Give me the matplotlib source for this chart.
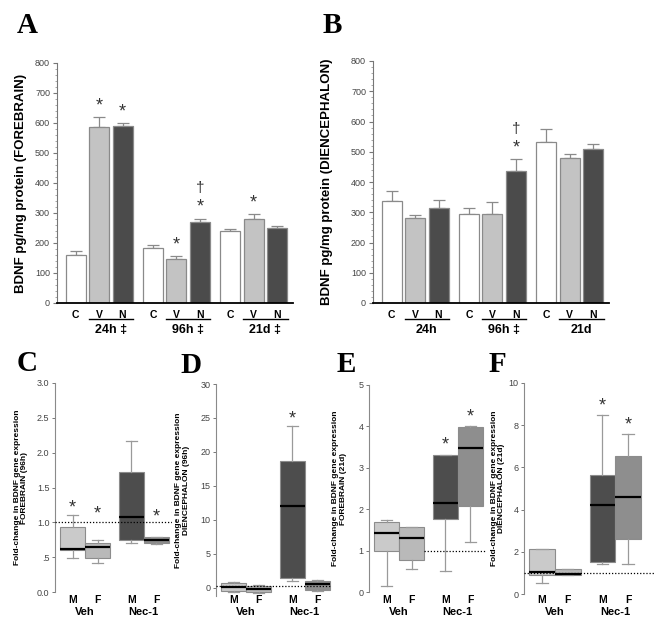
import matplotlib
matplotlib.use("Agg")
import matplotlib.pyplot as plt
import matplotlib.transforms as mtransforms
from matplotlib.ticker import MultipleLocator

plt.rcParams['font.family'] = ['Liberation Sans', 'DejaVu Sans']

#----------DATA--------
#Protein levels (panels A and B)
bar_labels = ['C', 'V', 'N'] * 3
groups_fore = ['24h \u2021', '96h \u2021', '21d \u2021']
groups_dien = ['24h', '96h \u2021', '21d']

fore_mean = [160, 587, 589, 183, 148, 270, 239, 281, 250]
fore_err = [14, 33, 11, 11, 8, 11, 8, 15, 8]
fore_star = [False, True, True, False, True, True, False, True, False]
fore_dagger = [False, False, False, False, False, True, False, False, False]

dien_mean = [337, 282, 315, 294, 293, 435, 532, 480, 510]
dien_err = [33, 8, 24, 20, 40, 40, 42, 14, 16]
dien_star = [False, False, False, False, False, True, False, False, False]
dien_dagger = [False, False, False, False, False, True, False, False, False]

#Gene expression box plots (panels C-F), order: Veh M, Veh F, Nec-1 M, Nec-1 F
box_labels = ['M', 'F', 'M', 'F']
box_groups = ['Veh', 'Nec-1']

c_med = [0.62, 0.65, 1.07, 0.74]
c_q1 = [0.61, 0.485, 0.74, 0.70]
c_q3 = [0.94, 0.71, 1.72, 0.79]
c_lo = [0.49, 0.42, 0.71, 0.69]
c_hi = [1.11, 0.74, 2.17, 0.79]
c_star = [1.21, 1.12, None, 1.07]

d_med = [0.15, -0.15, 12.1, 0.6]
d_q1 = [-0.45, -0.6, 1.5, -0.3]
d_q3 = [0.7, 0.3, 18.7, 1.0]
d_lo = [-0.6, -0.7, 1.0, -0.4]
d_hi = [0.9, 0.4, 23.8, 1.2]
d_star = [None, None, 24.9, None]

e_med = [1.43, 1.31, 2.14, 3.48]
e_q1 = [0.98, 0.78, 1.77, 2.07]
e_q3 = [1.68, 1.56, 3.32, 3.98]
e_lo = [0.15, 0.55, 0.51, 1.21]
e_hi = [1.73, 1.57, 3.32, 4.0]
e_star = [None, None, 3.55, 4.23]

f_med = [1.04, 0.95, 4.22, 4.62]
f_q1 = [0.9, 0.9, 1.53, 2.6]
f_q3 = [2.13, 1.18, 5.65, 6.55]
f_lo = [0.52, 0.88, 1.42, 1.42]
f_hi = [2.13, 1.18, 8.5, 7.56]
f_star = [None, None, 8.92, 8.02]

#----------STYLE--------
W, H = 664, 631
bar_colors = ['white', '#c3c3c3', '#4b4b4b'] * 3
bar_x = [0, 1, 2, 3.3, 4.3, 5.3, 6.6, 7.6, 8.6]
box_colors = ['#cacaca', '#b9b9b9', '#4d4d4d', '#8e8e8e']
box_x = [0.7, 1.7, 3.05, 4.05]

fig = plt.figure(figsize=(W / 100, H / 100), dpi=100)


def px_axes(x0, x1, y0, y1):
    #axes from pixel box (left, right, top, bottom)
    return fig.add_axes([x0 / W, 1 - y1 / H, (x1 - x0) / W, (y1 - y0) / H])


def fig_y(py):
    return 1 - py / H


def bar_panel(ax, means, errs, stars, daggers, groups, ylabel, label_x):
    ax.bar(bar_x, means, width=0.85, color=bar_colors, edgecolor='#8a8a8a',
           linewidth=0.9, zorder=2)
    ax.errorbar(bar_x, means, yerr=[[0] * len(errs), errs], fmt='none',
                ecolor='#8a8a8a', elinewidth=0.9, capsize=4, capthick=0.9, zorder=1)
    for x, m, e, s, d in zip(bar_x, means, errs, stars, daggers):
        if s:
            ax.annotate('*', (x, m + e), xytext=(0, 2), textcoords='offset points',
                        ha='center', va='bottom', fontsize=13, color='#333333')
        if d:
            ax.annotate('\u2020', (x, m + e), xytext=(0, 17), textcoords='offset points',
                        ha='center', va='bottom', fontsize=11, color='#333333')
    ax.set_ylim(0, 800)
    ax.set_xlim(-0.8, 9.28)
    ax.yaxis.set_major_locator(MultipleLocator(100))
    ax.yaxis.set_minor_locator(MultipleLocator(20))
    ax.tick_params(axis='y', which='major', length=3, width=0.8, color='#777777',
                   labelsize=6.5, labelcolor='#444444', pad=2)
    ax.tick_params(axis='y', which='minor', length=1.5, width=0.6, color='#999999')
    ax.set_xticks(bar_x, bar_labels, fontweight='bold', fontsize=7.5)
    ax.tick_params(axis='x', length=0, pad=5)
    for side in ['top', 'right']:
        ax.spines[side].set_visible(False)
    ax.spines['left'].set_color('#777777')
    ax.spines['left'].set_linewidth(0.8)
    ax.spines['bottom'].set_linewidth(1.3)
    ax.set_ylabel(ylabel, fontweight='bold', fontsize=9.5)
    ax.yaxis.set_label_coords(label_x, 0.5)
    trans = mtransforms.blended_transform_factory(ax.transData, fig.transFigure)
    for g, name in enumerate(groups):
        xv, xn = bar_x[3 * g + 1], bar_x[3 * g + 2]
        ax.plot([xv - 0.45, xn + 0.45], [fig_y(319)] * 2, color='black', lw=1.0,
                transform=trans, clip_on=False)
        ax.text((xv + xn) / 2, fig_y(330), name, transform=trans, ha='center',
                va='center', fontsize=9, fontweight='bold')


def box_panel(ax, med, q1, q3, lo, hi, stars, ylim, ticks, ticklabels, ylabel,
              label_x, xmax, line_y, line_start=0.0):
    stats = [dict(med=m, q1=a, q3=b, whislo=l, whishi=h, fliers=[])
             for m, a, b, l, h in zip(med, q1, q3, lo, hi)]
    parts = ax.bxp(stats, positions=box_x, widths=1.0, patch_artist=True,
                   showfliers=False,
                   boxprops=dict(edgecolor='#8c8c8c', linewidth=0.8),
                   whiskerprops=dict(color='#9a9a9a', linewidth=0.9),
                   capprops=dict(color='#9a9a9a', linewidth=0.9),
                   medianprops=dict(color='black', linewidth=1.6),
                   capwidths=0.45)
    for patch, col in zip(parts['boxes'], box_colors):
        patch.set_facecolor(col)
    ax.axhline(line_y, xmin=line_start, xmax=1, color='black', ls=(0, (1, 1.5)),
               lw=0.9, zorder=5)
    for x, s in zip(box_x, stars):
        if s is not None:
            ax.text(x, s, '*', ha='center', va='center', fontsize=13, color='#333333')
    ax.set_xlim(0, xmax)
    ax.set_ylim(*ylim)
    ax.set_yticks(ticks, ticklabels)
    ax.tick_params(axis='y', length=2.5, width=0.7, color='#777777', labelsize=6.5,
                   labelcolor='#444444', pad=1.5)
    ax.set_xticks([])
    for side in ['top', 'right', 'bottom']:
        ax.spines[side].set_visible(False)
    ax.spines['left'].set_color('#8a8a8a')
    ax.spines['left'].set_linewidth(0.8)
    ax.set_ylabel(ylabel, fontweight='bold', fontsize=6, linespacing=1.1)
    ax.yaxis.set_label_coords(label_x, 0.5)
    trans = mtransforms.blended_transform_factory(ax.transData, fig.transFigure)
    for x, t in zip(box_x, box_labels):
        ax.text(x, fig_y(600), t, transform=trans, ha='center', va='center',
                fontsize=7.5, fontweight='bold')
    for g, name in enumerate(box_groups):
        ax.text((box_x[2 * g] + box_x[2 * g + 1]) / 2, fig_y(612), name,
                transform=trans, ha='center', va='center', fontsize=8,
                fontweight='bold')


#----------PANELS--------
axA = px_axes(57, 293, 63, 303)
bar_panel(axA, fore_mean, fore_err, fore_star, fore_dagger, groups_fore,
          'BDNF pg/mg protein (FOREBRAIN)', -0.125)

axB = px_axes(373, 609, 61, 303)
bar_panel(axB, dien_mean, dien_err, dien_star, dien_dagger, groups_dien,
          'BDNF pg/mg protein (DIENCEPHALON)', -0.17)

axC = px_axes(55, 172, 383, 592)
box_panel(axC, c_med, c_q1, c_q3, c_lo, c_hi, c_star, (0, 3.0),
          [0, 0.5, 1.0, 1.5, 2.0, 2.5, 3.0], ['0.0', '.5', '1.0', '1.5', '2.0', '2.5', '3.0'],
          'Fold-change in BDNF gene expression\nFOREBRAIN (96h)', -0.23, 4.68, 1.0)

axD = px_axes(216, 332, 384, 596)
box_panel(axD, d_med, d_q1, d_q3, d_lo, d_hi, d_star, (-1.2, 30),
          [0, 5, 10, 15, 20, 25, 30], ['0', '5', '10', '15', '20', '25', '30'],
          'Fold-change in BDNF gene expression\nDIENCEPHALON (96h)', -0.225, 4.64, 0.2)

axE = px_axes(369, 486, 385, 592)
box_panel(axE, e_med, e_q1, e_q3, e_lo, e_hi, e_star, (0, 5),
          [0, 1, 2, 3, 4, 5], ['0', '1', '2', '3', '4', '5'],
          'Fold-change in BDNF gene expression\nFOREBRAIN (21d)', -0.19, 4.68, 1.0, 0.47)

axF = px_axes(524, 655, 383, 594)
box_panel(axF, f_med, f_q1, f_q3, f_lo, f_hi, f_star, (0, 10),
          [0, 2, 4, 6, 8, 10], ['0', '2', '4', '6', '8', '10'],
          'Fold-change in BDNF gene expression\nDIENCEPHALON (21d)', -0.145, 5.1, 1.0)

#Panel letters
letter_style = dict(fontsize=21, fontweight='bold', family='Liberation Serif')
for letter, px, py in [('A', 17, 33), ('B', 323, 33), ('C', 17, 371),
                       ('D', 180, 373), ('E', 337, 372), ('F', 489, 372)]:
    fig.text(px / W, fig_y(py), letter, ha='left', va='baseline', **letter_style)

fig.savefig('out.png', dpi=100)
